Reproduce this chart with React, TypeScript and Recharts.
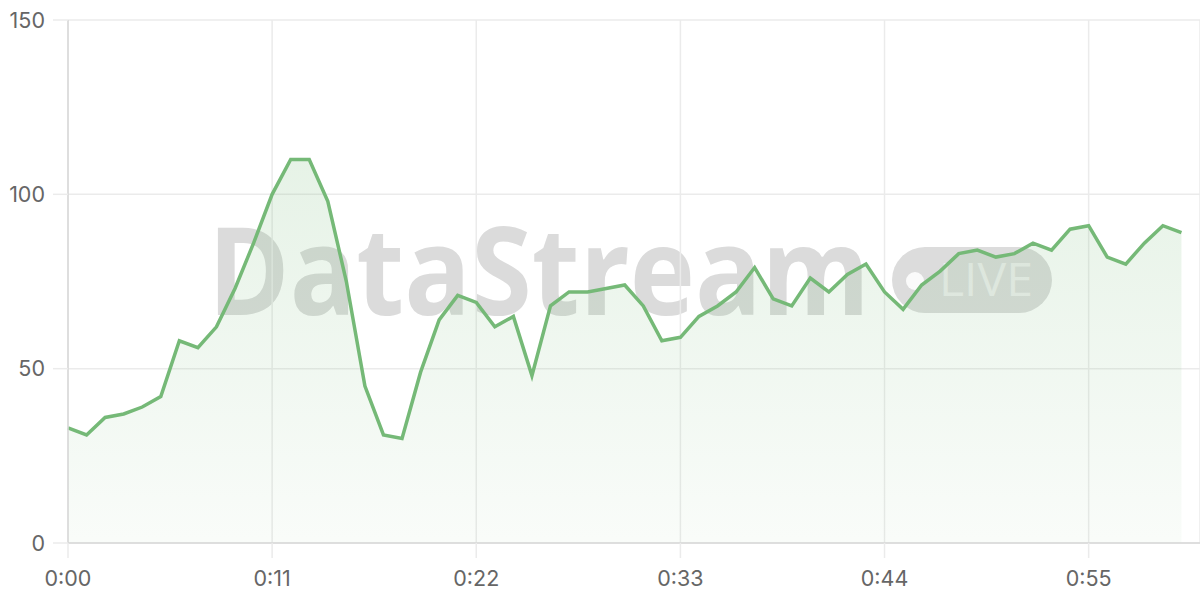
import { AreaChart, Area, XAxis, YAxis, CartesianGrid } from "recharts";

// one reading per second, 0:00 .. 1:00
const values = [
  33, 31, 36, 37, 39, 42, 58, 56, 62, 73,
  86, 100, 110, 110, 98, 75, 45, 31, 30, 49,
  64, 71, 69, 62, 65, 48, 68, 72, 72, 73,
  74, 68, 58, 59, 65, 68, 72, 79, 70, 68,
  76, 72, 77, 80, 72, 67, 74, 78, 83, 84,
  82, 83, 86, 84, 90, 91, 82, 80, 86, 91,
  89,
];
const xTicks = [0, 11, 22, 33, 44, 55];
const yTicks = [0, 50, 100, 150];

const data = values.map((v, i) => ({ t: i, value: v }));

const fmtTime = (s: number) => `${Math.floor(s / 60)}:${String(s % 60).padStart(2, "0")}`;

const GREEN = "#75b977";
const GRID = "#ebebeb";
const AXIS = "#d9d9d9";
const tickStyle = { fill: "#666", fontSize: 21.5, fontFamily: "Inter, 'Noto Sans', sans-serif" };

const Watermark = () => (
  <svg width={1200} height={600} style={{ position: "absolute", left: 0, top: 0 }}>
    <text
      x={208}
      y={315}
      textLength={662}
      lengthAdjust="spacingAndGlyphs"
      fontFamily="'Open Sans', sans-serif"
      fontWeight={700}
      fontSize={122}
      fill="#dbdbdb"
    >
      DataStream
    </text>
    <rect x={892} y={247} width={160} height={66} rx={33} fill="#dcdcdc" />
    <circle cx={915} cy={281} r={9} fill="#fafafa" />
    <text
      x={939}
      y={296}
      textLength={94}
      lengthAdjust="spacingAndGlyphs"
      fontFamily="'Open Sans', sans-serif"
      fontSize={45}
      fill="#eeeeee"
    >
      LIVE
    </text>
  </svg>
);

export default function App() {
  return (
    <div style={{ position: "relative", width: 1200, height: 600, background: "#fff" }}>
      <style>{`body{margin:0}`}</style>
      <Watermark />
      <div style={{ position: "absolute", left: 0, top: 0 }}>
        <AreaChart width={1200} height={600} data={data} margin={{ top: 20, right: 0, bottom: 0, left: 0 }}>
          <defs>
            <linearGradient id="fillGreen" x1="0" y1="0" x2="0" y2="1">
              <stop offset="0%" stopColor={GREEN} stopOpacity={0.3} />
              <stop offset="100%" stopColor={GREEN} stopOpacity={0.07} />
            </linearGradient>
          </defs>
          <CartesianGrid stroke={GRID} strokeWidth={1.5} />
          <XAxis
            dataKey="t"
            type="number"
            domain={[0, 61]}
            ticks={xTicks}
            tickFormatter={fmtTime}
            height={57}
            tickSize={15}
            tickMargin={13}
            tick={tickStyle}
            tickLine={{ stroke: GRID, strokeWidth: 1.5 }}
            axisLine={{ stroke: AXIS, strokeWidth: 1.5 }}
          />
          <YAxis
            domain={[0, 150]}
            ticks={yTicks}
            width={68}
            tickSize={15}
            tickMargin={8}
            tick={tickStyle}
            tickLine={{ stroke: GRID, strokeWidth: 1.5 }}
            axisLine={{ stroke: AXIS, strokeWidth: 1.5 }}
          />
          <Area
            type="linear"
            dataKey="value"
            stroke={GREEN}
            strokeWidth={3.5}
            fill="url(#fillGreen)"
            dot={false}
            activeDot={false}
            isAnimationActive={false}
          />
        </AreaChart>
      </div>
    </div>
  );
}
